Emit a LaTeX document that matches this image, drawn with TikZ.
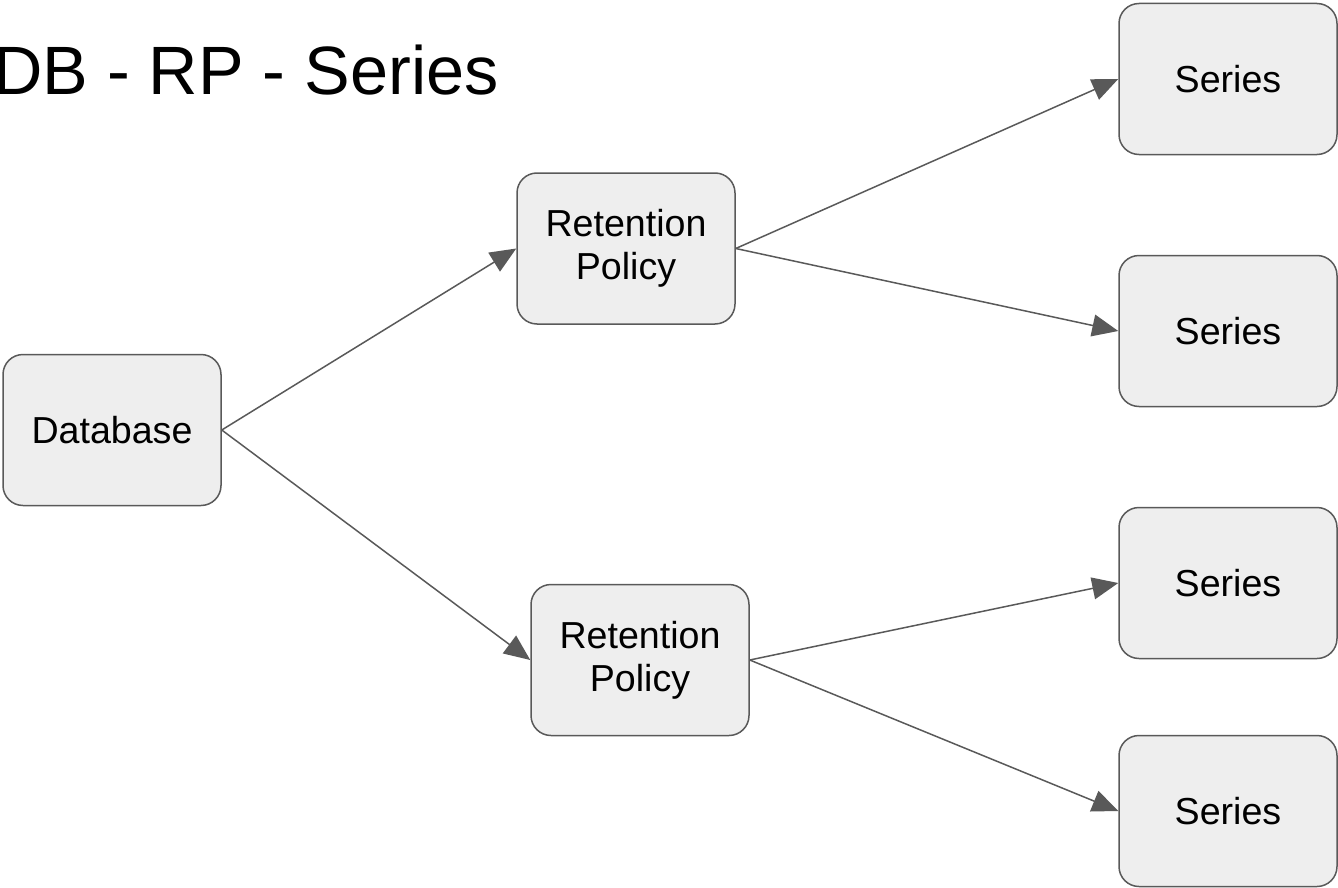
\documentclass[tikz,border=0pt]{standalone}
\usepackage{fontspec}
\setmainfont{Liberation Sans}
\usetikzlibrary{arrows.meta}

\definecolor{boxfill}{HTML}{EEEEEE}
\definecolor{linegray}{HTML}{595959}

\begin{document}
\begin{tikzpicture}[x=0.5pt, y=-0.5pt,
	box/.style={draw=linegray, fill=boxfill, line width=0.75pt, rounded corners=10pt,
		minimum width=109pt, minimum height=75.5pt, align=center, inner sep=0pt,
		font=\fontsize{18.8}{21.5}\selectfont},
	link/.style={draw=linegray, line width=0.75pt, -{Triangle[length=13pt, width=11pt]}}]
			\useasboundingbox (0,0) rectangle (1338,888);
			\node (title) [anchor=base east, inner sep=0pt, font=\fontsize{34.2}{41}\selectfont] at (499,95) {DB - RP - Series};

			\node (db) [box] at (112,430) {Database};
			\node (rp1) [box] at (626,248.5) {Retention\\Policy};
			\node (rp2) [box] at (640,660) {Retention\\Policy};
			\node (s1) [box] at (1228,79) {Series};
			\node (s2) [box] at (1228,331) {Series};
			\node (s3) [box] at (1228,583) {Series};
			\node (s4) [box] at (1228,811) {Series};

			\path (db.east) edge [link] (rp1.west);
			\path (db.east) edge [link] (rp2.west);
			\path (rp1.east) edge [link] (s1.west);
			\path (rp1.east) edge [link] (s2.west);
			\path (rp2.east) edge [link] (s3.west);
			\path (rp2.east) edge [link] (s4.west);
			\end{tikzpicture}
\end{document}
